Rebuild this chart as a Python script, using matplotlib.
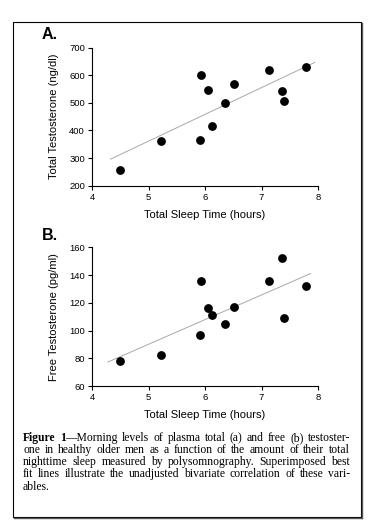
import numpy as np
import matplotlib
matplotlib.use("Agg")
import matplotlib.pyplot as plt
from matplotlib.patches import Rectangle
from matplotlib.lines import Line2D

# values
sleep_hours = [4.49, 5.22, 5.91, 5.93, 6.06, 6.13, 6.35, 6.52, 7.14, 7.37, 7.39, 7.78]
total_t = [256, 363, 365, 600, 547, 417, 501, 567, 621, 542, 508, 630]
free_t = [78, 82, 96.5, 136, 116, 111, 105, 117, 136, 152, 109, 132]

x_ticks = [4, 5, 6, 7, 8]
total_ticks = [200, 300, 400, 500, 600, 700]
free_ticks = [60, 80, 100, 120, 140, 160]

caption_lines = [
    [[("Figure", "bold")], [("1", "bold"), ("\u2014Morning", "normal")], "levels", "of",
     "plasma", "total", "(a)", "and", "free", "(b)", "testoster-"],
    "one in healthy older men as a function of the amount of their total".split(),
    "nighttime sleep measured by polysomnography. Superimposed best".split(),
    "fit lines illustrate the unadjusted bivariate correlation of these vari-".split(),
    ["ables."],
]

W, H = 375, 532
plt.rcParams["font.family"] = ["Liberation Sans", "DejaVu Sans"]

fig = plt.figure(figsize=(W / 100, H / 100), dpi=100)


def px_rect(x0, y0, x1, y1):
    return [x0 / W, 1 - y1 / H, (x1 - x0) / W, (y1 - y0) / H]


def panel(rect, yvals, yticks, ylabel, fit_range):
    ax = fig.add_axes(rect)
    ax.scatter(sleep_hours, yvals, s=40, color="black", zorder=3, linewidths=0)
    slope, icpt = np.polyfit(sleep_hours, yvals, 1)
    xs = np.array(fit_range)
    ax.plot(xs, slope * xs + icpt, color="#a8a8a8", lw=0.7, zorder=2)
    ax.set_xlim(4, 8)
    ax.set_ylim(yticks[0], yticks[-1])
    ax.set_xticks(x_ticks)
    ax.set_yticks(yticks)
    for s in ("top", "right"):
        ax.spines[s].set_visible(False)
    for s in ("left", "bottom"):
        ax.spines[s].set_linewidth(0.8)
    ax.tick_params(labelsize=6.8, length=3, width=0.8, pad=2)
    ax.set_xlabel("Total Sleep Time (hours)", fontsize=8, labelpad=6)
    ax.set_ylabel(ylabel, fontsize=8, labelpad=7.5)
    return ax


panel(px_rect(92, 47.7, 318, 185.7), total_t, total_ticks,
      "Total Testosterone (ng/dl)", [4.33, 7.94])
panel(px_rect(92, 247.3, 318, 386), free_t, free_ticks,
      "Free Testosterone (pg/ml)", [4.28, 7.87])

fig.text(42 / W, 1 - 27 / H, "A.", fontsize=11.5, fontweight="bold", va="top")
fig.text(42 / W, 1 - 228 / H, "B.", fontsize=11.5, fontweight="bold", va="top")

# justified caption, placed word by word
renderer = fig.canvas.get_renderer()
cap_font = dict(family=["Liberation Serif", "DejaVu Serif"], fontsize=8.4)
x_left, x_right = 23, 350
base0, step = 441, 12.15
for i, words in enumerate(caption_lines):
    y = 1 - (base0 + i * step) / H
    items = []
    for word in words:
        parts = word if isinstance(word, list) else [(word, "normal")]
        items.append([fig.text(0, y, s, fontweight=w, va="baseline", **cap_font)
                      for s, w in parts])
    widths = [[t.get_window_extent(renderer).width for t in parts] for parts in items]
    total = sum(sum(ws) for ws in widths)
    last = i == len(caption_lines) - 1
    gap = 3 if last else (x_right - x_left - total) / (len(items) - 1)
    x = x_left
    for parts, ws in zip(items, widths):
        for t, w in zip(parts, ws):
            t.set_x(x / W)
            x += w
        x += gap

# outer frame with a slight shadow on right and bottom
fig.add_artist(Rectangle((13 / W, 1 - 517 / H), (361 - 13) / W, (517 - 22) / H,
                         fill=False, edgecolor="black", lw=0.8,
                         transform=fig.transFigure))
fig.add_artist(Line2D([362 / W, 362 / W], [1 - 518 / H, 1 - 23 / H],
                      color="#555555", lw=1.0, transform=fig.transFigure))
fig.add_artist(Line2D([14 / W, 362 / W], [1 - 518 / H, 1 - 518 / H],
                      color="#555555", lw=1.0, transform=fig.transFigure))

fig.savefig("out.png", dpi=100)
